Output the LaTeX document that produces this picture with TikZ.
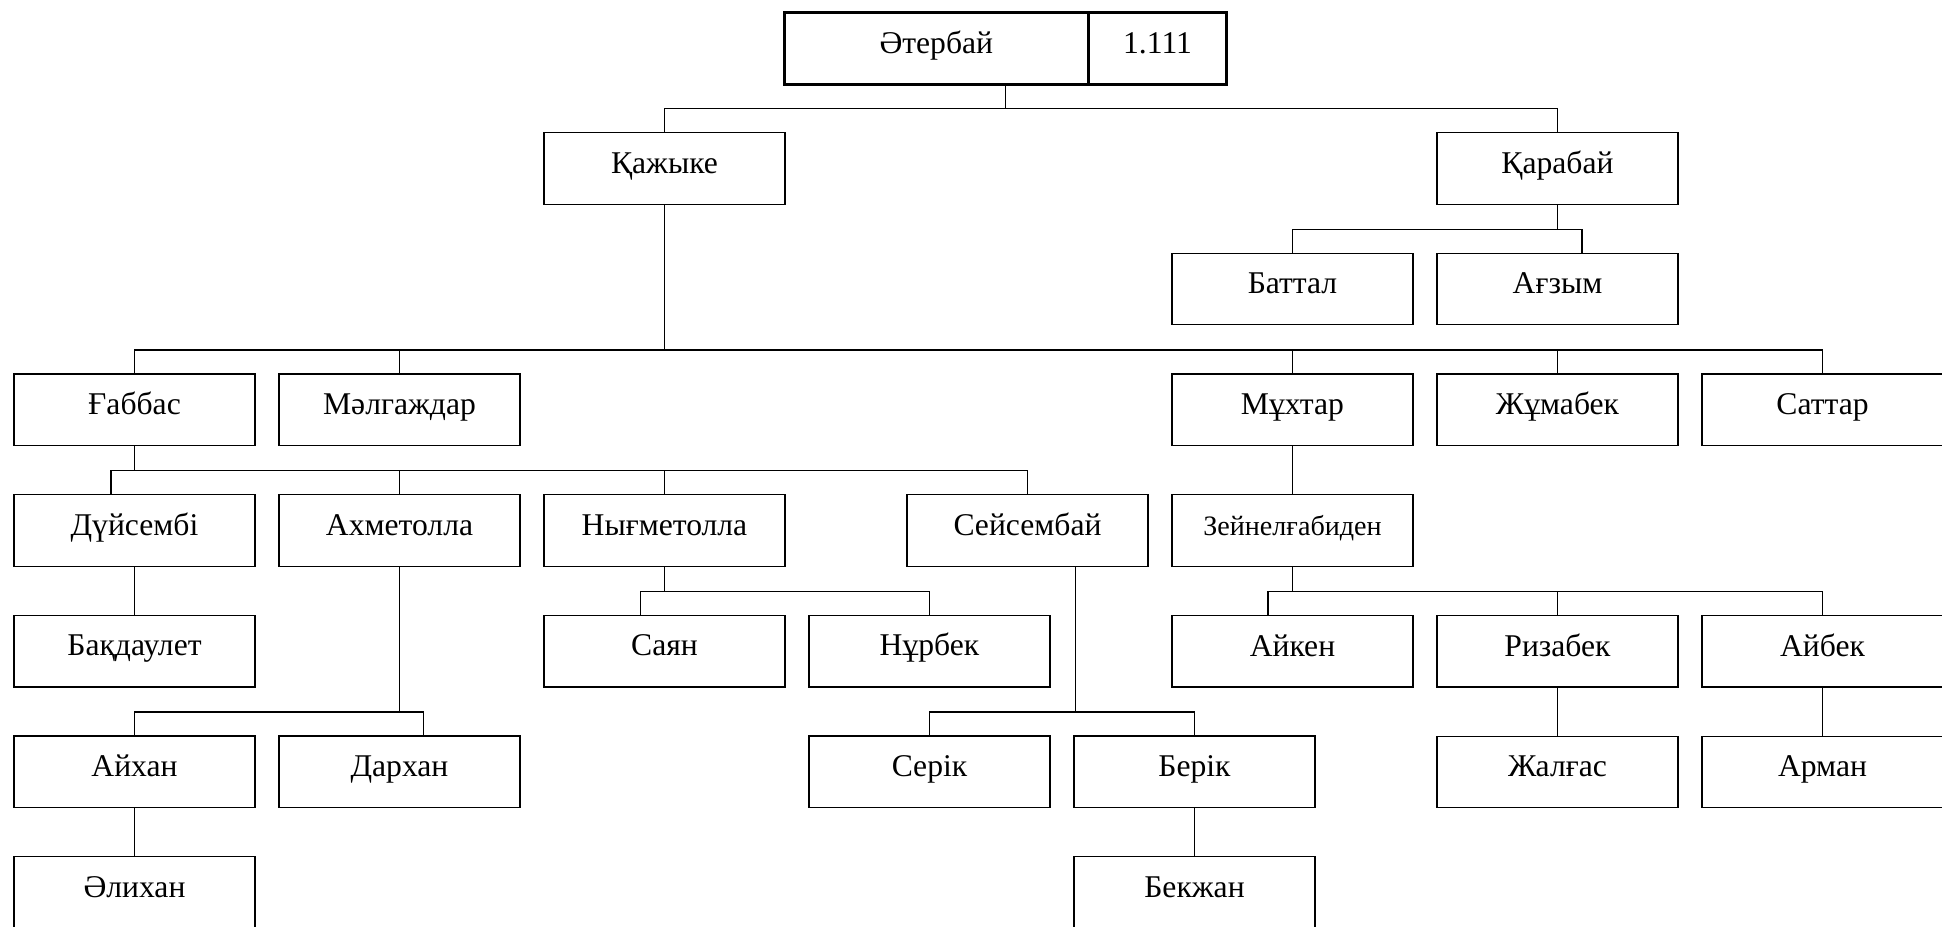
\documentclass[tikz,border=0pt]{standalone}
\usepackage{fontspec}
\setmainfont{Liberation Serif}
\usetikzlibrary{positioning,calc}
\tikzset{
  personbox/.style={
    rectangle, draw=black, line width=0.7pt,
    minimum width=4.82cm, minimum height=1.43cm,
    font=\fontsize{18}{21}\selectfont, align=center,
    text height=13pt, text depth=7.5pt, inner sep=0pt, outer sep=0pt
  },
  rootbox/.style={
    personbox, line width=1.7pt, minimum height=1.45cm
  },
  famline/.style={draw=black, line width=0.7pt},
}

\begin{document}
\begin{tikzpicture}[node distance=0.984cm and 0.48cm]
\useasboundingbox (0,0) rectangle (38.84,-18.52);
\clip (0,0) rectangle (38.84,-18.52);
\node[rootbox, minimum width=6.08cm] (rootname) at (18.726,-0.974) {Әтербай};
\node[rootbox, minimum width=2.77cm, right=0pt of rootname] (rootnum) {1.111};
\node[personbox] (kazhyke) at (13.29,-3.3675) {Қажыке};
\node[personbox] (karabai) at (31.15,-3.3675) {Қарабай};
\node[personbox, below=of karabai] (agzym) {Ағзым};
\node[personbox, left=of agzym] (battal) {Баттал};
\node[personbox, below=of agzym] (zhumabek) {Жұмабек};
\node[personbox, left=of zhumabek] (mukhtar) {Мұхтар};
\node[personbox, right=of zhumabek] (sattar) {Саттар};
\node[personbox] (gabbas) at (2.69,-8.195) {Ғаббас};
\node[personbox, right=of gabbas] (malgazhdar) {Мәлгаждар};
\node[personbox, below=of gabbas] (duisembi) {Дүйсембі};
\node[personbox, right=of duisembi] (ahmetolla) {Ахметолла};
\node[personbox, right=of ahmetolla] (nygmetolla) {Нығметолла};
\node[personbox, below=of mukhtar, font=\fontsize{16}{19}\selectfont] (zeinel) {Зейнелғабиден};
\node[personbox, left=of zeinel] (seisembai) {Сейсембай};
\node[personbox, below=of duisembi] (bakdaulet) {Бақдаулет};
\node[personbox, below=of nygmetolla] (sayan) {Саян};
\node[personbox, right=of sayan] (nurbek) {Нұрбек};
\node[personbox, below=of zeinel] (aiken) {Айкен};
\node[personbox, right=of aiken] (rizabek) {Ризабек};
\node[personbox, right=of rizabek] (aibek) {Айбек};
\node[personbox, below=of bakdaulet] (aikhan) {Айхан};
\node[personbox, right=of aikhan] (darkhan) {Дархан};
\node[personbox, below=of nurbek] (serik) {Серік};
\node[personbox, right=of serik] (berik) {Берік};
\node[personbox, below=of rizabek] (zhalgas) {Жалғас};
\node[personbox, below=of aibek] (arman) {Арман};
\node[personbox, below=of aikhan] (alikhan) {Әлихан};
\node[personbox, below=of berik] (bekzhan) {Бекжан};

\coordinate (rootmid) at ($(rootname.south west)!0.5!(rootnum.south east)$);
\draw[famline] (kazhyke.north) -- ++(0,0.48) coordinate (bus0) -| (karabai.north);
\draw[famline] (rootmid) -- (rootmid |- bus0);

\draw[famline] (battal.north) -- ++(0,0.48) coordinate (bus1) -| ([xshift=0.49cm]agzym.north);
\draw[famline] (karabai.south) -- (karabai.south |- bus1);

\draw[famline] (gabbas.north) -- ++(0,0.48) coordinate (bus2) -| (sattar.north);
\foreach \k in {malgazhdar,mukhtar,zhumabek}
  \draw[famline] (\k.north) -- (\k.north |- bus2);
\draw[famline] (kazhyke.south) -- (kazhyke.south |- bus2);

\draw[famline] ([xshift=-0.47cm]duisembi.north) -- ++(0,0.48) coordinate (bus3) -| (seisembai.north);
\foreach \k in {ahmetolla,nygmetolla}
  \draw[famline] (\k.north) -- (\k.north |- bus3);
\draw[famline] (gabbas.south) -- (gabbas.south |- bus3);

\draw[famline] (duisembi.south) -- (bakdaulet.north);
\draw[famline] (mukhtar.south) -- (zeinel.north);

\draw[famline] (aikhan.north) -- ++(0,0.48) coordinate (bus4) -| ([xshift=0.48cm]darkhan.north);
\draw[famline] (ahmetolla.south) -- (ahmetolla.south |- bus4);

\draw[famline] ([xshift=-0.48cm]sayan.north) -- ++(0,0.48) coordinate (bus5) -| (nurbek.north);
\draw[famline] (nygmetolla.south) -- (nygmetolla.south |- bus5);

\coordinate (seisstem) at ([xshift=0.96cm]seisembai.south);
\draw[famline] (serik.north) -- ++(0,0.48) coordinate (bus6) -| (berik.north);
\draw[famline] (seisstem) -- (seisstem |- bus6);

\draw[famline] ([xshift=-0.49cm]aiken.north) -- ++(0,0.48) coordinate (bus7) -| (aibek.north);
\draw[famline] (rizabek.north) -- (rizabek.north |- bus7);
\draw[famline] (zeinel.south) -- (zeinel.south |- bus7);

\draw[famline] (aikhan.south) -- (alikhan.north);
\draw[famline] (berik.south) -- (bekzhan.north);
\draw[famline] (rizabek.south) -- (zhalgas.north);
\draw[famline] (aibek.south) -- (arman.north);
\end{tikzpicture}
\end{document}
